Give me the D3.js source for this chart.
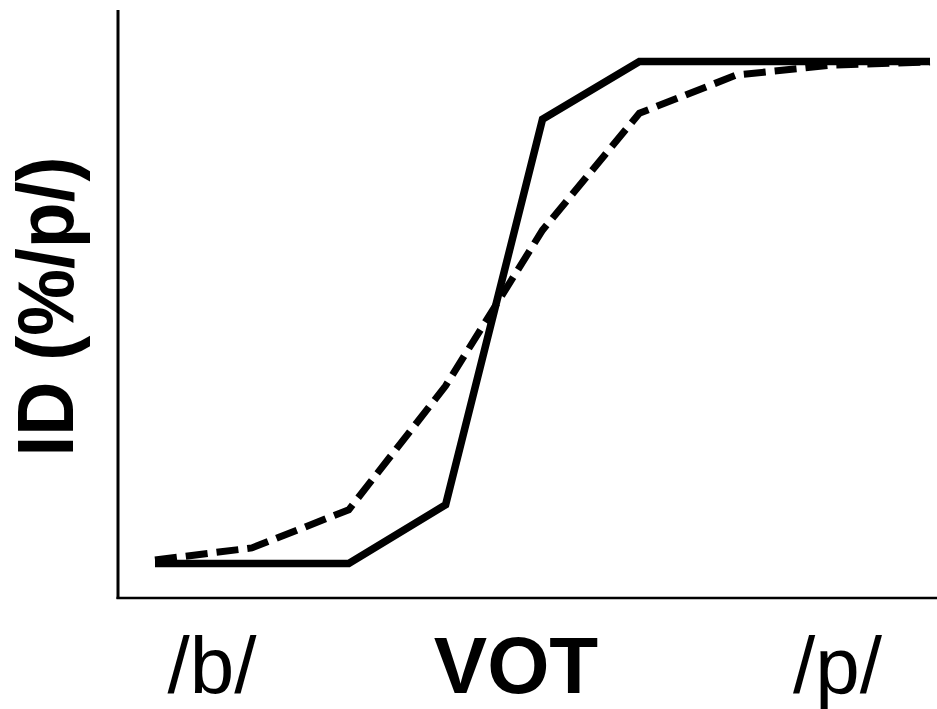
<!DOCTYPE html>
<html>
<head>
<meta charset="utf-8">
<script src="https://cdn.jsdelivr.net/npm/d3@7"></script>
<style>
  body { margin: 0; background: #fff; }
  text { font-family: "Liberation Sans", Arial, sans-serif; fill: #000; }
</style>
</head>
<body>
<div id="chart"></div>
<script>
// VOT continuum steps 1..9
const steps = [1, 2, 3, 4, 5, 6, 7, 8, 9];
// % /p/ responses
const solidVals  = [0, 0, 0, 11.7, 88.5, 100, 100, 100, 100];
const dashedVals = [0.7, 3.1, 10.7, 35.4, 66.4, 89.7, 97.3, 99.3, 99.9];
const xTickLabels = ["/b/", "/p/"];

const width = 937;
const height = 709;

const svg = d3.select("#chart")
    .append("svg")
    .attr("width", width)
    .attr("height", height);

const x = d3.scaleLinear()
    .domain([1, 9])
    .range([155, 930]);

const y = d3.scaleLinear()
    .domain([0, 100])
    .range([563.5, 61.5]);

// axes: plain lines, no ticks
svg.append("line")
    .attr("x1", 118).attr("x2", 118)
    .attr("y1", 10).attr("y2", 599)
    .attr("stroke", "#000")
    .attr("stroke-width", 3);

svg.append("line")
    .attr("x1", 116.5).attr("x2", 937)
    .attr("y1", 598).attr("y2", 598)
    .attr("stroke", "#000")
    .attr("stroke-width", 2.5);

const line = d3.line()
    .x((d, i) => x(steps[i]))
    .y(d => y(d));

svg.append("path")
    .datum(dashedVals)
    .attr("d", line)
    .attr("fill", "none")
    .attr("stroke", "#000")
    .attr("stroke-width", 7)
    .attr("stroke-dasharray", "22,9");

svg.append("path")
    .datum(solidVals)
    .attr("d", line)
    .attr("fill", "none")
    .attr("stroke", "#000")
    .attr("stroke-width", 7.5);

// x labels
svg.append("text")
    .attr("x", 212).attr("y", 693)
    .attr("text-anchor", "middle")
    .style("font-size", "80px")
    .text(xTickLabels[0]);

svg.append("text")
    .attr("x", 837.5).attr("y", 693)
    .attr("text-anchor", "middle")
    .style("font-size", "80px")
    .text(xTickLabels[1]);

svg.append("text")
    .attr("x", 516).attr("y", 693)
    .attr("text-anchor", "middle")
    .style("font-size", "80px")
    .style("font-weight", "bold")
    .text("VOT");

// y label
svg.append("text")
    .attr("transform", "translate(73,306.5) rotate(-90)")
    .attr("text-anchor", "middle")
    .style("font-size", "80px")
    .style("font-weight", "bold")
    .attr("textLength", 300)
    .attr("lengthAdjust", "spacingAndGlyphs")
    .text("ID (%/p/)");
</script>
</body>
</html>
